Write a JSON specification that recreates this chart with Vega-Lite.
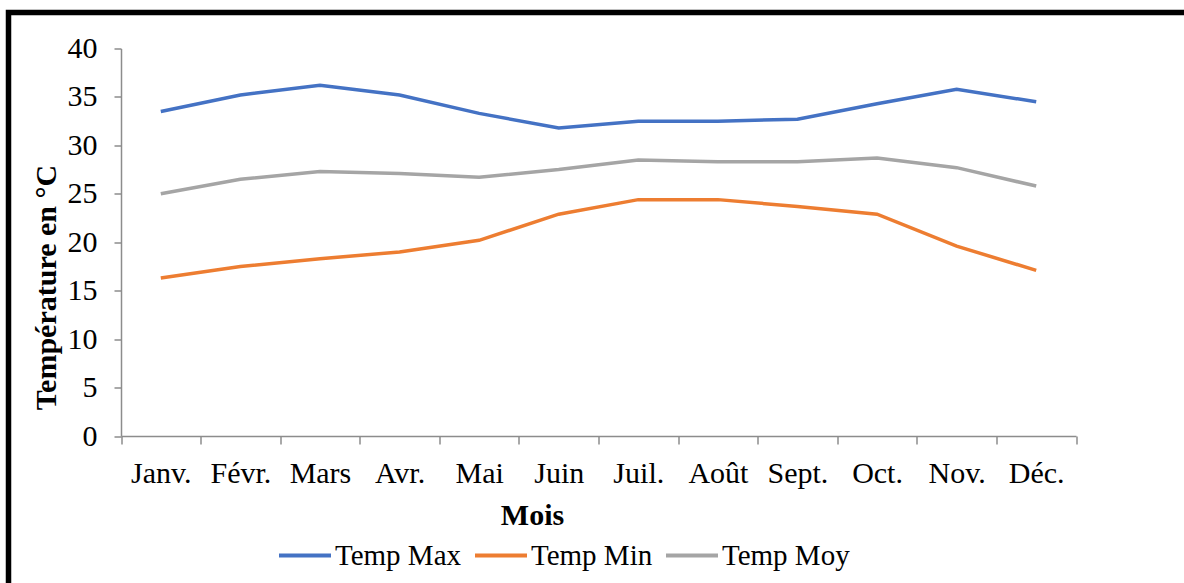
{
  "$schema": "https://vega.github.io/schema/vega-lite/v6.json",
  "width": 1180.5,
  "height": 575.5,
  "autosize": {"type": "none"},
  "padding": {"left": 8.5, "top": 12.5, "right": -5, "bottom": -5},
  "background": "white",
  "config": {
    "view": {"stroke": "black", "strokeWidth": 5.5},
    "font": "Liberation Serif"
  },
  "data": {
    "values": [
      {"mois": "Janv.", "serie": "Temp Max", "temp": 33.5},
      {"mois": "Févr.", "serie": "Temp Max", "temp": 35.2},
      {"mois": "Mars", "serie": "Temp Max", "temp": 36.2},
      {"mois": "Avr.", "serie": "Temp Max", "temp": 35.2},
      {"mois": "Mai", "serie": "Temp Max", "temp": 33.3},
      {"mois": "Juin", "serie": "Temp Max", "temp": 31.8},
      {"mois": "Juil.", "serie": "Temp Max", "temp": 32.5},
      {"mois": "Août", "serie": "Temp Max", "temp": 32.5},
      {"mois": "Sept.", "serie": "Temp Max", "temp": 32.7},
      {"mois": "Oct.", "serie": "Temp Max", "temp": 34.3},
      {"mois": "Nov.", "serie": "Temp Max", "temp": 35.8},
      {"mois": "Déc.", "serie": "Temp Max", "temp": 34.5},
      {"mois": "Janv.", "serie": "Temp Min", "temp": 16.3},
      {"mois": "Févr.", "serie": "Temp Min", "temp": 17.5},
      {"mois": "Mars", "serie": "Temp Min", "temp": 18.3},
      {"mois": "Avr.", "serie": "Temp Min", "temp": 19.0},
      {"mois": "Mai", "serie": "Temp Min", "temp": 20.2},
      {"mois": "Juin", "serie": "Temp Min", "temp": 22.9},
      {"mois": "Juil.", "serie": "Temp Min", "temp": 24.4},
      {"mois": "Août", "serie": "Temp Min", "temp": 24.4},
      {"mois": "Sept.", "serie": "Temp Min", "temp": 23.7},
      {"mois": "Oct.", "serie": "Temp Min", "temp": 22.9},
      {"mois": "Nov.", "serie": "Temp Min", "temp": 19.6},
      {"mois": "Déc.", "serie": "Temp Min", "temp": 17.1},
      {"mois": "Janv.", "serie": "Temp Moy", "temp": 25.0},
      {"mois": "Févr.", "serie": "Temp Moy", "temp": 26.5},
      {"mois": "Mars", "serie": "Temp Moy", "temp": 27.3},
      {"mois": "Avr.", "serie": "Temp Moy", "temp": 27.1},
      {"mois": "Mai", "serie": "Temp Moy", "temp": 26.7},
      {"mois": "Juin", "serie": "Temp Moy", "temp": 27.5},
      {"mois": "Juil.", "serie": "Temp Moy", "temp": 28.5},
      {"mois": "Août", "serie": "Temp Moy", "temp": 28.3},
      {"mois": "Sept.", "serie": "Temp Moy", "temp": 28.3},
      {"mois": "Oct.", "serie": "Temp Moy", "temp": 28.7},
      {"mois": "Nov.", "serie": "Temp Moy", "temp": 27.7},
      {"mois": "Déc.", "serie": "Temp Moy", "temp": 25.8}
    ]
  },
  "mark": {"type": "line", "strokeWidth": 3.5},
  "encoding": {
    "x": {
      "field": "mois",
      "type": "nominal",
      "sort": ["Janv.", "Févr.", "Mars", "Avr.", "Mai", "Juin", "Juil.", "Août", "Sept.", "Oct.", "Nov.", "Déc."],
      "bandPosition": 0.5,
      "scale": {"type": "band", "range": [112.5, 1067.5], "paddingInner": 0, "paddingOuter": 0},
      "axis": {
        "title": "Mois",
        "offset": -152,
        "labelAngle": 0,
        "tickBand": "extent",
        "domainColor": "#8c8c8c",
        "domainWidth": 1.5,
        "tickColor": "#8c8c8c",
        "tickWidth": 1.5,
        "tickSize": 8,
        "labelPadding": 14,
        "labelFontSize": 30,
        "labelColor": "black",
        "labelFont": "Liberation Serif",
        "titleFont": "Liberation Serif",
        "titleFontSize": 30,
        "titleFontWeight": "bold",
        "titleColor": "black",
        "titlePadding": 12,
        "titleX": 523.5,
        "grid": false
      }
    },
    "y": {
      "field": "temp",
      "type": "quantitative",
      "scale": {"domain": [0, 40], "range": [423.5, 36], "nice": false, "zero": true},
      "axis": {
        "title": "Température en °C",
        "offset": -112.5,
        "values": [0, 5, 10, 15, 20, 25, 30, 35, 40],
        "domainColor": "#8c8c8c",
        "domainWidth": 1.5,
        "tickColor": "#8c8c8c",
        "tickWidth": 1.5,
        "tickSize": 7,
        "labelPadding": 17,
        "labelFontSize": 30,
        "labelColor": "black",
        "labelFont": "Liberation Serif",
        "titleFont": "Liberation Serif",
        "titleFontSize": 30,
        "titleFontWeight": "bold",
        "titleColor": "black",
        "titlePadding": 6,
        "titleY": 274.5,
        "grid": false
      }
    },
    "color": {
      "field": "serie",
      "type": "nominal",
      "scale": {"domain": ["Temp Max", "Temp Min", "Temp Moy"], "range": ["#4472C4", "#ED7D31", "#A5A5A5"]},
      "legend": {
        "title": null,
        "orient": "none",
        "direction": "horizontal",
        "legendX": 268.5,
        "legendY": 515,
        "symbolType": "stroke",
        "symbolSize": 2704,
        "symbolStrokeWidth": 4,
        "labelFontSize": 29,
        "labelFont": "Liberation Serif",
        "labelColor": "black",
        "labelOffset": 2,
        "columnPadding": 5,
        "labelLimit": 300
      }
    }
  }
}
